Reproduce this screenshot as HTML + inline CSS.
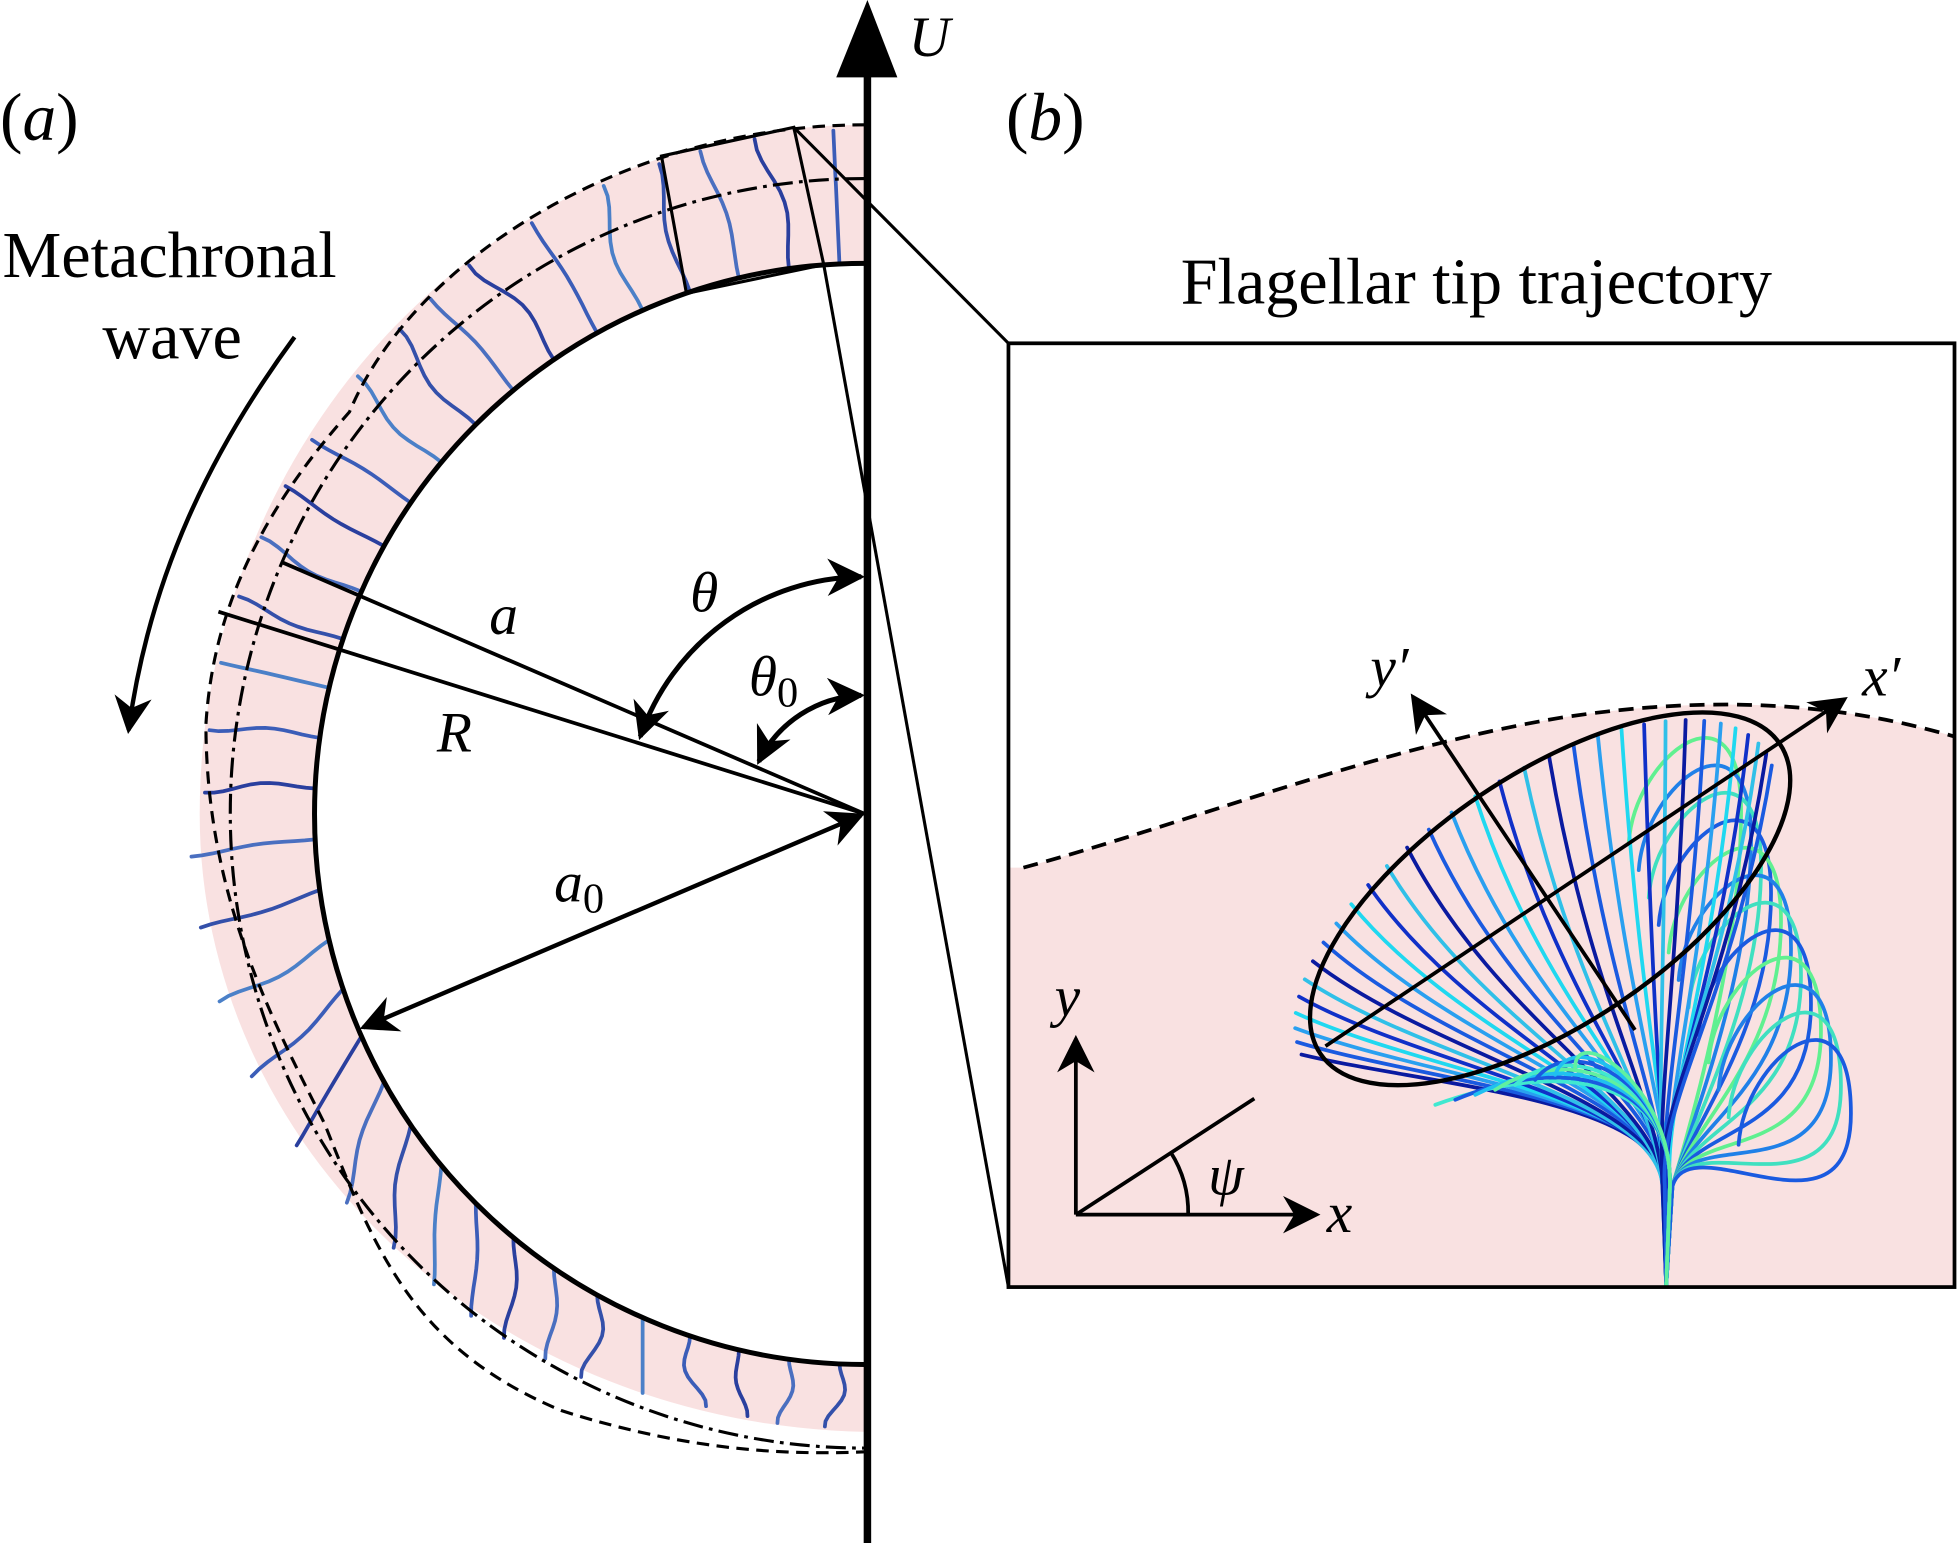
<!DOCTYPE html>
<html><head><meta charset="utf-8"><style>
html,body{margin:0;padding:0;background:#fff;width:1957px;height:1543px;overflow:hidden}
svg{display:block}
text{font-family:"Liberation Serif",serif;fill:#000}
</style></head><body>
<svg id="s" width="1957" height="1543" viewBox="0 0 1568 1236" preserveAspectRatio="none" xmlns="http://www.w3.org/2000/svg">
<defs>
<marker id="ah2" viewBox="0 0 10 10" refX="9" refY="5" markerWidth="30" markerHeight="30" markerUnits="userSpaceOnUse" orient="auto-start-reverse"><path d="M0,0 L10,5 L0,10 L3,5 z" fill="#000"/></marker>
<clipPath id="boxclip"><rect x="808" y="275" width="758" height="756"/></clipPath>
</defs>
<path d="M693,100 A533,552 0 0 0 160,652 A545,495 0 0 0 693,1147 L693,1093 A441,441 0 0 1 693,211 Z" fill="#f9e1e1"/>
<g id="cilia"></g>
<path d="M693,211 A441,441 0 0 0 693,1093" fill="none" stroke="#000" stroke-width="4"/>
<path d="M693,143 A508,508 0 0 0 693,1160" fill="none" stroke="#000" stroke-width="2.5" stroke-dasharray="16,5,3,5"/>
<path d="M693,100 C500,100 330,210 280,330 C200,420 170,500 165,580 C165,720 220,820 260,900 C300,1000 330,1080 450,1130 C560,1165 640,1165 693,1163" fill="none" stroke="#000" stroke-width="2.5" stroke-dasharray="10,6"/>
<line x1="695" y1="1236" x2="695" y2="55" stroke="#000" stroke-width="6"/>
<path d="M670,62 L695,0 L719,62 Z" fill="#000"/>
<text x="728" y="45" font-size="46" font-style="italic">U</text>
<path d="M530,125 L636,102 L660,212 L550,235 Z" fill="none" stroke="#000" stroke-width="2.5"/>
<line x1="636" y1="102" x2="808" y2="275" stroke="#000" stroke-width="2.5"/>
<line x1="660" y1="212" x2="808" y2="1031" stroke="#000" stroke-width="2.5"/>
<line x1="693" y1="652" x2="225" y2="450" stroke="#000" stroke-width="3"/>
<line x1="693" y1="652" x2="175" y2="490" stroke="#000" stroke-width="3"/>
<line x1="690" y1="653" x2="291" y2="823" stroke="#000" stroke-width="3.5" marker-start="url(#ah2)" marker-end="url(#ah2)"/>
<path d="M513,590 A190,190 0 0 1 690,462" fill="none" stroke="#000" stroke-width="4" marker-start="url(#ah2)" marker-end="url(#ah2)"/>
<path d="M608,610 A95,95 0 0 1 690,557" fill="none" stroke="#000" stroke-width="4" marker-start="url(#ah2)" marker-end="url(#ah2)"/>
<text x="392" y="508" font-size="46" font-style="italic">a</text>
<text x="350" y="602" font-size="46" font-style="italic">R</text>
<text x="553" y="490" font-size="46" font-style="italic">θ</text>
<text x="600" y="557" font-size="46" font-style="italic">θ<tspan font-size="34" font-style="normal" dy="9">0</tspan></text>
<text x="444" y="722" font-size="46" font-style="italic">a<tspan font-size="34" font-style="normal" dy="9">0</tspan></text>
<text x="2" y="222" font-size="53">Metachronal</text>
<text x="82" y="287" font-size="53">wave</text>
<path d="M236,270 C170,360 120,460 103,585" fill="none" stroke="#000" stroke-width="3.5" marker-end="url(#ah2)"/>
<text x="0" y="112" font-size="54">(<tspan font-style="italic">a</tspan>)</text>
<text x="806" y="112" font-size="54">(<tspan font-style="italic">b</tspan>)</text>
<text x="946" y="243" font-size="53">Flagellar tip trajectory</text>
<g clip-path="url(#boxclip)">
<path d="M820,695 C950,660 1100,600 1250,575 C1380,555 1480,565 1566,590 L1566,1031 L808,1031 L808,695 Z" fill="#f9e1e1"/>
<path d="M820,695 C950,660 1100,600 1250,575 C1380,555 1480,565 1566,590" fill="none" stroke="#000" stroke-width="3" stroke-dasharray="12,7"/>
<g id="flag"></g>
</g>
<rect x="808" y="275" width="758" height="756" fill="none" stroke="#000" stroke-width="3"/>
<ellipse cx="1242" cy="720" rx="222" ry="100" transform="rotate(-34 1242 720)" fill="none" stroke="#000" stroke-width="3.5"/>
<line x1="1062" y1="838" x2="1478" y2="560" stroke="#000" stroke-width="3" marker-end="url(#ah2)"/>
<line x1="1310" y1="825" x2="1132" y2="558" stroke="#000" stroke-width="3" marker-end="url(#ah2)"/>
<text x="1098" y="550" font-size="46" font-style="italic">y′</text>
<text x="1492" y="557" font-size="46" font-style="italic">x′</text>
<line x1="862" y1="973" x2="862" y2="832" stroke="#000" stroke-width="3" marker-end="url(#ah2)"/>
<line x1="862" y1="973" x2="1055" y2="973" stroke="#000" stroke-width="3" marker-end="url(#ah2)"/>
<line x1="862" y1="973" x2="1005" y2="880" stroke="#000" stroke-width="3"/>
<path d="M938,923 A90,90 0 0 1 952,973" fill="none" stroke="#000" stroke-width="3"/>
<text x="845" y="814" font-size="46" font-style="italic">y</text>
<text x="1063" y="987" font-size="46" font-style="italic">x</text>
<text x="968" y="957" font-size="46" font-style="italic">ψ</text>
</svg>
<script>
var NS="http://www.w3.org/2000/svg";
function P(g,d,c,w){var p=document.createElementNS(NS,"path");p.setAttribute("d",d);p.setAttribute("fill","none");p.setAttribute("stroke",c);p.setAttribute("stroke-width",w);p.setAttribute("stroke-linecap","round");g.appendChild(p);}
var g=document.getElementById("cilia"),cx=693,cy=652;
var cols=["#3b5db8","#2a3f9e","#4a6fc0","#3450aa","#4b80c8"];
var N=34;
for(var i=0;i<N;i++){
 var phi=(i+0.5)/N*Math.PI;
 var th=-Math.PI/2-phi;
 var ux=Math.cos(th),uy=Math.sin(th);
 var px=cx+441*ux,py=cy+441*uy;
 var dx=ux,dy=uy;
 if(phi>Math.PI/2){var bl=Math.min(1,(phi-Math.PI/2)/(Math.PI/4));dx=ux*(1-bl);dy=uy*(1-bl)+bl;var n=Math.hypot(dx,dy);dx/=n;dy/=n;}
 var ry=(py+dy*10<cy)?552:495,rx=(py+dy*10<cy)?533:545;
 var ax=px-cx,ay=py-cy;
 var A=dx*dx/(rx*rx)+dy*dy/(ry*ry),B=2*(ax*dx/(rx*rx)+ay*dy/(ry*ry)),C=ax*ax/(rx*rx)+ay*ay/(ry*ry)-1;
 var L=(-B+Math.sqrt(Math.max(0,B*B-4*A*C)))/(2*A);
 L-=4;
 var vx=-dy,vy=dx;
 var amp=(i<10||i>26)?14*Math.sin(i*1.3):8*Math.sin(i*0.9);
 var d="";
 for(var k=0;k<=12;k++){var s=k/12,o=amp*Math.sin(s*Math.PI*1.6)*s;
  var x=px+dx*s*L+vx*o,y=py+dy*s*L+vy*o; d+=(k?"L":"M")+x.toFixed(1)+","+y.toFixed(1);}
 P(g,d,cols[i%5],3);
}
var f=document.getElementById("flag");
var bx=1335,by=1030,ec=[1242,720],a=222,b=100,rot=-34*Math.PI/180;
var fc=["#0a1aa0","#1a5ae0","#2aa0f0","#20d8f0","#1030c8","#30c0e8"];
function ept(u){var ex=a*Math.cos(u),ey=-b*Math.sin(u);return [ec[0]+ex*Math.cos(rot)-ey*Math.sin(rot),ec[1]+ex*Math.sin(rot)+ey*Math.cos(rot)];}
// loops (drawn first, behind)
for(var j=0;j<12;j++){
 var c=["#60f090","#2080e8","#40e0c0","#1a5ae0"][j%4];
 var xr=1395+j*8,y0=650+j*22,xl=xr-85;
 P(f,"M"+bx+","+by+" L1340,950 C1355,900 "+xr+","+(y0+110)+" "+xr+","+y0+" S"+xl+","+(y0-45)+" "+(xl-5)+","+(y0+25),c,3);
}
for(var j=0;j<32;j++){
 var u=Math.PI*0.98 - j/31*Math.PI*1.02;
 var t=ept(u),tx=t[0]-12,ty=t[1]+6;
 var sx=bx+3*Math.sin(j),sy=950;
 var c1x=sx-5,c1y=880, c2x=tx+(sx-tx)*0.35, c2y=ty+(880-ty)*0.7;
 P(f,"M"+bx+","+by+" L"+sx.toFixed(1)+","+sy+" C"+c1x.toFixed(1)+","+c1y+" "+c2x.toFixed(1)+","+c2y.toFixed(1)+" "+tx.toFixed(1)+","+ty.toFixed(1),fc[j%6],3);
}
for(var j=0;j<8;j++){
 var ex=1150+j*16,ey=885-j*4;
 P(f,"M"+bx+","+by+" L1338,950 C1340,870 1260,"+(ey-40)+" "+ex+","+ey,["#40e8d0","#1a5ae0","#20c0f0","#60f0a0"][j%4],3);
}
</script>
</body></html>
